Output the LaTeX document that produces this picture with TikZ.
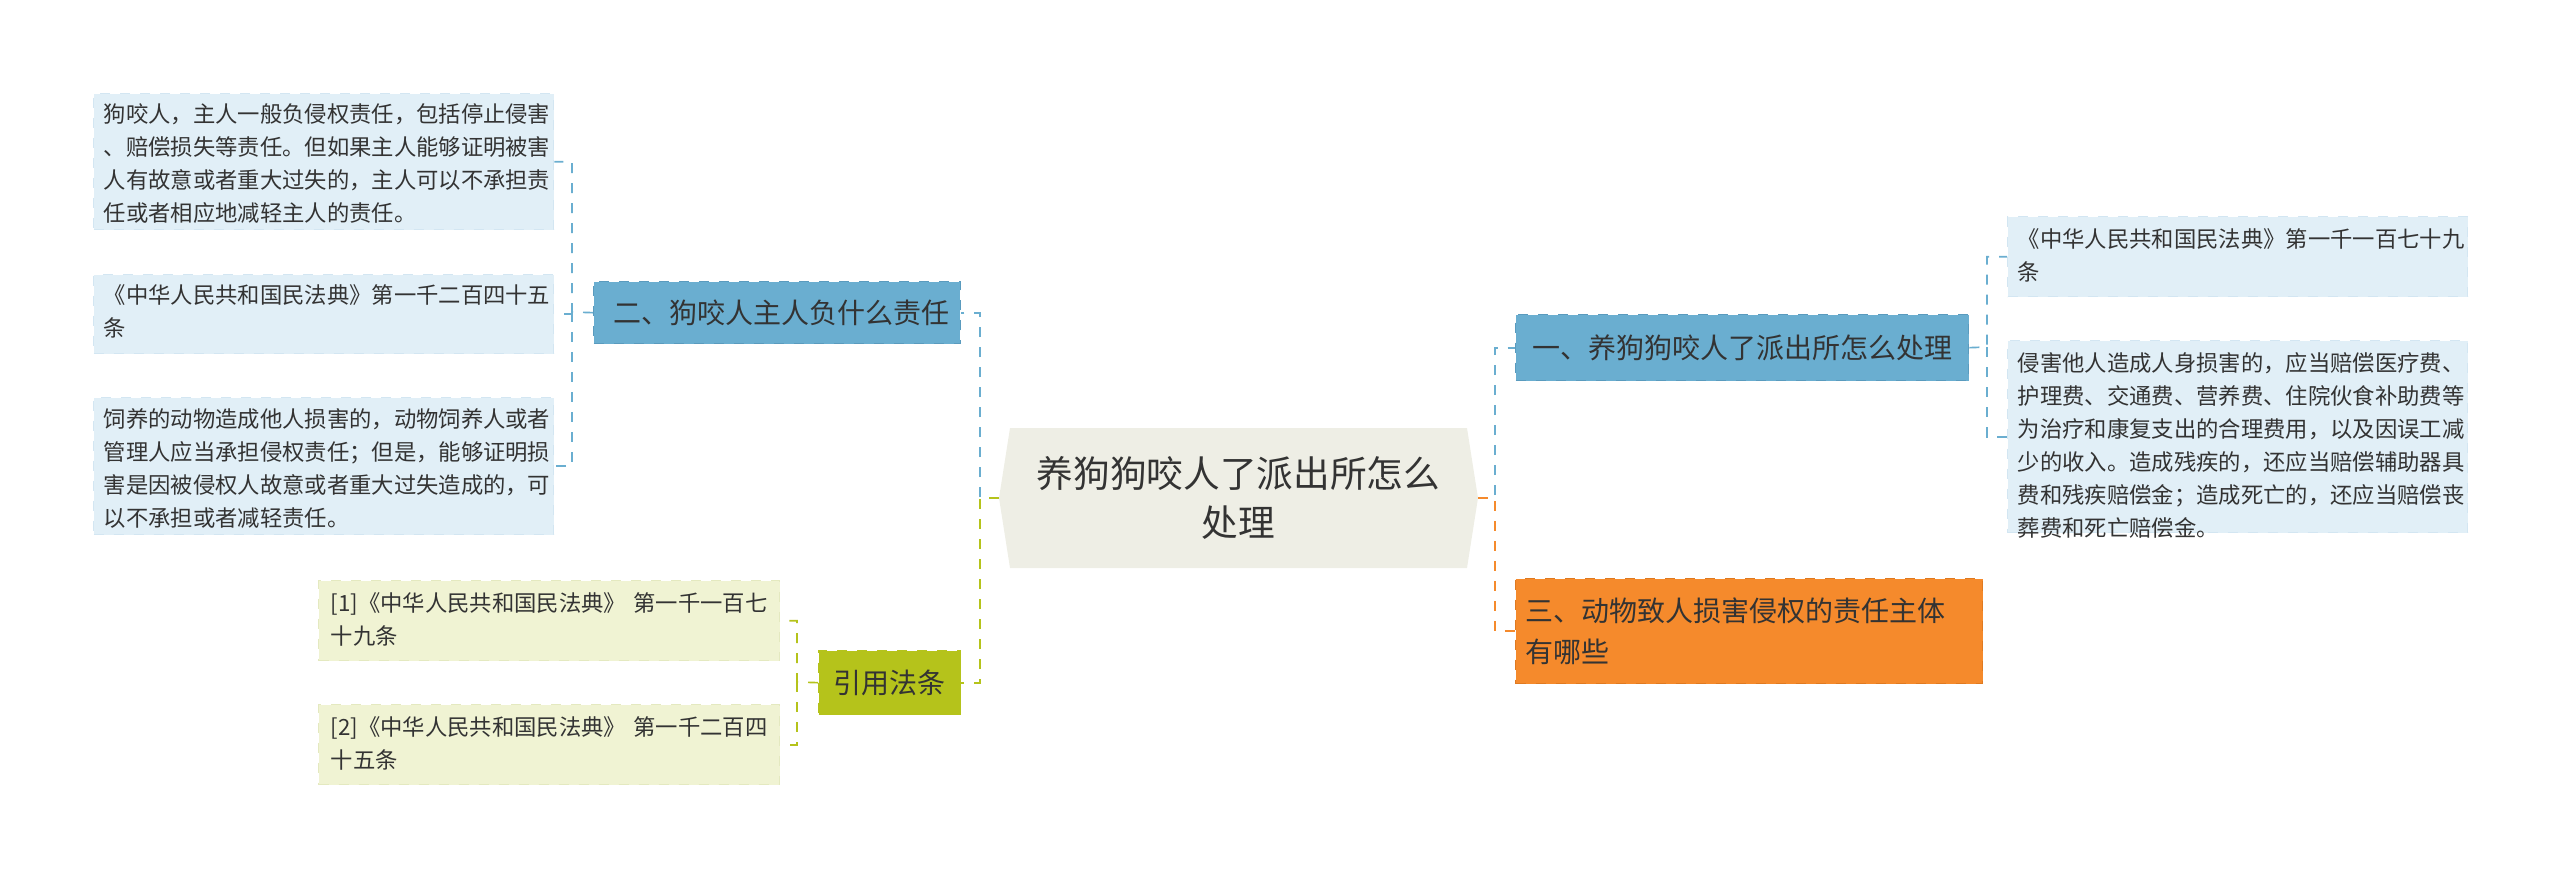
\documentclass[tikz,border=0pt]{standalone}
\usepackage{fontspec}
\setmainfont{Noto Sans CJK SC}
\usetikzlibrary{calc}
\definecolor{bl}{HTML}{6AAED0}
\definecolor{bld}{HTML}{5A9BBE}
\definecolor{lf}{HTML}{E1EFF7}
\definecolor{lfd}{HTML}{D3E6F2}
\definecolor{ct}{HTML}{F0F3D3}
\definecolor{ctd}{HTML}{E4E9C0}
\definecolor{og}{HTML}{F58A2C}
\definecolor{ogd}{HTML}{E07A20}
\definecolor{yg}{HTML}{B5C31B}
\definecolor{cen}{HTML}{EEEEE5}
\definecolor{tx}{HTML}{333333}
\begin{document}
\begin{tikzpicture}[x=0.3pt,y=-0.3pt,
 leaf/.style={draw=lfd,dashed,fill=lf,text=tx,align=left,inner sep=0pt,anchor=north west,font=\fontsize{6.7pt}{9.9pt}\selectfont},
 cite/.style={leaf,draw=ctd,fill=ct},
 br/.style={draw=bld,dashed,fill=bl,text=tx,inner sep=0pt,anchor=north west,font=\fontsize{8.4pt}{12.5pt}\selectfont},
 bline/.style={draw=bl,dashed,line width=0.5pt},
 oline/.style={draw=og,dashed,line width=0.5pt},
 yline/.style={draw=yg,dashed,line width=0.5pt}]
\useasboundingbox (0,0) rectangle (2560,879);
% center
\node[inner sep=0pt,text=tx,align=center,font=\fontsize{11pt}{14.6pt}\selectfont,minimum width=140pt,minimum height=42pt] (c) at (1238.5,498) {};
\fill[cen] (1010,428) -- (1467,428) -- (1478,498) -- (1467,568) -- (1010,568) -- (999,498) -- cycle;
\node[inner sep=0pt,text=tx,align=center,font=\fontsize{11pt}{14.6pt}\selectfont] (ct) at (1238.5,498) {养狗狗咬人了派出所怎么\\处理};
% branches
\node[br,minimum width=110pt,minimum height=18.6pt,text width=104pt,align=left] (b2) at (593,281) {\hspace*{3pt}二、狗咬人主人负什么责任};
\node[br,fill=yg,draw=yg,minimum width=42.6pt,minimum height=19.2pt,align=center] (b4) at (818,650) {引用法条};
\node[br,minimum width=135.9pt,minimum height=19.8pt,align=left] (b1) at (1515,314) {\hspace*{3pt}一、养狗狗咬人了派出所怎么处理\hspace*{3pt}};
\node[br,fill=og,draw=ogd,minimum width=140.1pt,minimum height=31.5pt,text width=134pt,align=left] (b3) at (1515,578) {\hspace*{0pt}三、动物致人损害侵权的责任主体\\有哪些};
% leaves left
\node[leaf,minimum width=138pt,minimum height=40.8pt,text width=132pt] (l1) at (93,93) {\hspace*{0pt}\\[-6pt]};
\node[leaf,draw=none,fill=none,text width=132pt] (l1t) at (103,103) {狗咬人，主人一般负侵权责任，包括停止侵害\\、赔偿损失等责任。但如果主人能够证明被害\\人有故意或者重大过失的，主人可以不承担责\\任或者相应地减轻主人的责任。};
\node[leaf,minimum width=138pt,minimum height=23.7pt] (l2) at (93,274) {};
\node[leaf,draw=none,fill=none,text width=132pt] (l2t) at (103,284) {《中华人民共和国民法典》第一千二百四十五\\条};
\node[leaf,minimum width=138pt,minimum height=41.1pt] (l3) at (93,397) {};
\node[leaf,draw=none,fill=none,text width=132pt] (l3t) at (103,408) {饲养的动物造成他人损害的，动物饲养人或者\\管理人应当承担侵权责任；但是，能够证明损\\害是因被侵权人故意或者重大过失造成的，可\\以不承担或者减轻责任。};
% cite leaves
\node[cite,minimum width=138.3pt,minimum height=24pt] (c1) at (318,580) {};
\node[cite,draw=none,fill=none,text width=132pt] (c1t) at (330,592) {[1]《中华人民共和国民法典》 第一千一百七\\十九条};
\node[cite,minimum width=138.3pt,minimum height=24pt] (c2) at (318,704) {};
\node[cite,draw=none,fill=none,text width=132pt] (c2t) at (330,716) {[2]《中华人民共和国民法典》 第一千二百四\\十五条};
% right leaves
\node[leaf,minimum width=138pt,minimum height=24pt] (r1) at (2007,216) {};
\node[leaf,draw=none,fill=none,text width=132pt] (r1t) at (2017,228) {《中华人民共和国民法典》第一千一百七十九\\条};
\node[leaf,minimum width=138pt,minimum height=57.6pt] (r2) at (2007,340) {};
\node[leaf,draw=none,fill=none,text width=132pt] (r2t) at (2017,352) {侵害他人造成人身损害的，应当赔偿医疗费、\\护理费、交通费、营养费、住院伙食补助费等\\为治疗和康复支出的合理费用，以及因误工减\\少的收入。造成残疾的，还应当赔偿辅助器具\\费和残疾赔偿金；造成死亡的，还应当赔偿丧\\葬费和死亡赔偿金。};
% connectors
\coordinate (rj) at (1495,498);
\coordinate (lj) at (980,498);
\draw[bline] (1478,498) -- (rj) |- (b1.west);
\draw[oline] (1478,498) -- (rj) |- (b3.west);
\draw[bline] (999,498) -- (lj) |- (b2.east);
\draw[yline] (999,498) -- (lj) |- (b4.east);
\coordinate (j2) at (572,312);
\draw[bline] (b2.west) -- (j2) |- (l1.east);
\draw[bline] (j2) |- (l2.east);
\draw[bline] (j2) |- (l3.east);
\coordinate (j4) at (797,682);
\draw[yline] (b4.west) -- (j4) |- (c1.east);
\draw[yline] (j4) |- (c2.east);
\coordinate (j1) at (1987,347);
\draw[bline] (b1.east) -- (j1) |- (r1.west);
\draw[bline] (j1) |- (r2.west);
\end{tikzpicture}
\end{document}
